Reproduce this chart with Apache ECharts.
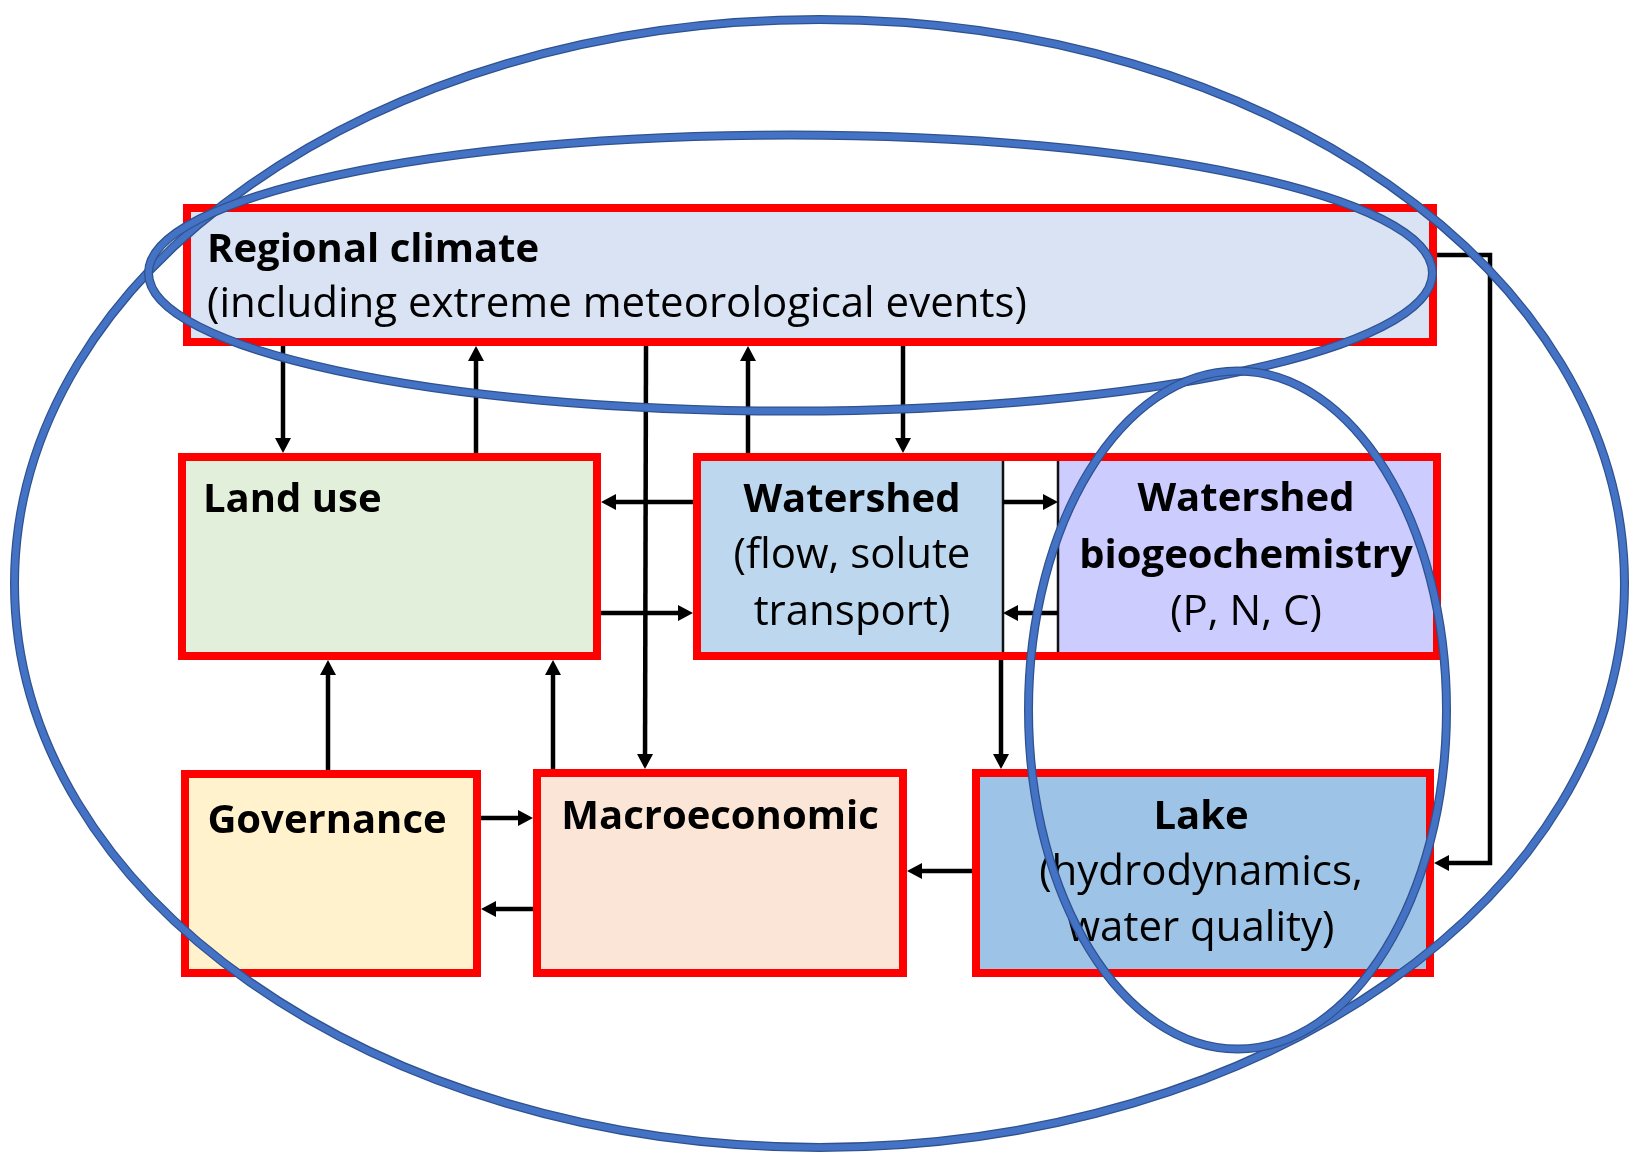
<!DOCTYPE html>
<html>
<head>
<meta charset="utf-8">
<style>
  html, body { margin: 0; padding: 0; background: #ffffff; }
  #chart { width: 1637px; height: 1157px; }
</style>
<script src="https://cdn.jsdelivr.net/npm/echarts@6/dist/echarts.min.js"></script>
</head>
<body>
<div id="chart"></div>
<script>
// ---- Diagram content (diagram units: 1 unit = 1 px of the original figure) ----
// Red-framed modules: [x1, y1, x2, y2]
const frameExtents = [
  [183, 204, 1437, 346],   // Regional climate
  [178, 453, 601, 660],    // Land use
  [693, 453, 1441, 660],   // Watershed + biogeochemistry
  [181, 770, 481, 977],    // Governance
  [533, 769, 907, 977],    // Macroeconomic
  [972, 769, 1434, 977]    // Lake
];
// Filled panels inside frames: [x1, y1, x2, y2]
const panelNames = ['Regional climate', 'Land use', 'Watershed', 'Watershed biogeochemistry', 'Governance', 'Macroeconomic', 'Lake'];
const panelExtents = [
  [187, 208, 1433, 342],
  [182, 457, 597, 656],
  [697, 457, 1003, 656],
  [1058, 457, 1437, 656],
  [185, 774, 477, 973],
  [537, 773, 903, 973],
  [976, 773, 1430, 973]
];
const panelColors = ['#dae3f3', '#e2efda', '#bdd7ee', '#ccccff', '#fff2cc', '#fbe5d6', '#9dc3e6'];

// Text lines
const labelText = [
  'Regional climate', '(including extreme meteorological events)',
  'Land use',
  'Watershed', '(flow, solute', 'transport)',
  'Watershed', 'biogeochemistry', '(P, N, C)',
  'Governance',
  'Macroeconomic',
  'Lake', '(hydrodynamics,', 'water quality)'
];
const labelBold = [1, 0, 1, 1, 0, 0, 1, 1, 0, 1, 1, 1, 0, 0];
// anchor x, baseline y
const labelAnchor = [
  [207, 262], [207, 317],
  [203, 512],
  [852, 512], [852, 568], [852, 625],
  [1246, 511], [1246, 568], [1246, 625],
  [327, 833],
  [720, 829],
  [1201, 829], [1201, 885], [1201, 941]
];
const labelAlign = ['left', 'left', 'left', 'center', 'center', 'center', 'center', 'center', 'center', 'center', 'center', 'center', 'center', 'center'];

// Arrows (polyline points, arrow head at the last point)
const arrowPaths = [
  [[283, 346], [283, 453]],
  [[476, 453], [476, 346]],
  [[646, 346], [645, 769]],
  [[748, 453], [748, 346]],
  [[903, 346], [903, 453]],
  [[693, 502], [601, 502]],
  [[601, 613], [693, 613]],
  [[1003, 502], [1058, 502]],
  [[1058, 613], [1003, 613]],
  [[1001, 660], [1001, 769]],
  [[328, 770], [328, 660]],
  [[553, 769], [553, 660]],
  [[481, 818], [533, 818]],
  [[533, 909], [481, 909]],
  [[972, 871], [907, 871]],
  [[1437, 255], [1490, 255], [1490, 863], [1434, 863]]
];

// Blue grouping ellipses: [cx, cy, rx, ry]
const ellipses = [
  [819.5, 583.5, 805, 564],
  [790.5, 273, 642, 138],
  [1237.5, 710, 209, 339]
];

// ---- Chart ----
const chart = echarts.init(document.getElementById('chart'), null, { renderer: 'canvas' });
const FONT = '"Open Sans", Lato, sans-serif';
const FS_BOLD = 40;
const FS_REG = 42;
const MID = 0.285; // em-box middle above baseline

function rectFrom(api, e, inset) {
  const p1 = api.coord([e[0], e[1]]);
  const p2 = api.coord([e[2], e[3]]);
  const x = Math.min(p1[0], p2[0]) + inset, y = Math.min(p1[1], p2[1]) + inset;
  return { x: x, y: y, width: Math.abs(p2[0] - p1[0]) - 2 * inset, height: Math.abs(p2[1] - p1[1]) - 2 * inset };
}

const option = {
  animation: false,
  backgroundColor: '#ffffff',
  grid: { left: 0, right: 0, top: 0, bottom: 0 },
  xAxis: { type: 'value', min: 0, max: 1637, show: false },
  yAxis: { type: 'value', min: 0, max: 1157, inverse: true, show: false },
  series: [
    {
      name: 'panels', type: 'custom', z: 1, clip: false,
      data: panelExtents.map((e, i) => [e[0], e[1], e[2], e[3], i]),
      encode: { x: [0, 2], y: [1, 3] },
      renderItem: function (params, api) {
        const i = api.value(4);
        const e = panelExtents[i];
        return {
          type: 'rect', shape: rectFrom(api, e, 0),
          style: { fill: panelColors[i], stroke: '#111', lineWidth: 2.5 }
        };
      }
    },
    {
      name: 'frames', type: 'custom', z: 2, clip: false,
      data: frameExtents.map((e, i) => [e[0], e[1], e[2], e[3], i]),
      encode: { x: [0, 2], y: [1, 3] },
      renderItem: function (params, api) {
        const e = frameExtents[api.value(4)];
        return {
          type: 'rect', shape: rectFrom(api, e, 4),
          style: { fill: null, stroke: '#ff0000', lineWidth: 8 }
        };
      }
    },
    {
      name: 'labels', type: 'custom', z: 3, clip: false,
      data: labelAnchor.map((a, i) => [a[0], a[1], i]),
      encode: { x: 0, y: 1 },
      renderItem: function (params, api) {
        const i = api.value(2);
        const p = api.coord([labelAnchor[i][0], labelAnchor[i][1]]);
        const fs = labelBold[i] ? FS_BOLD : FS_REG;
        return {
          type: 'text',
          style: {
            text: labelText[i],
            x: p[0], y: p[1] - MID * fs,
            fill: '#000000',
            font: (labelBold[i] ? 'bold ' : '') + fs + 'px ' + FONT,
            align: labelAlign[i],
            verticalAlign: 'middle'
          }
        };
      }
    },
    {
      name: 'arrows', type: 'custom', z: 4, clip: false,
      data: arrowPaths.map((p, i) => [p[0][0], p[0][1], i]),
      encode: { x: 0, y: 1 },
      renderItem: function (params, api) {
        const pts = arrowPaths[api.value(2)].map(q => api.coord(q));
        const n = pts.length;
        const tip = pts[n - 1], prev = pts[n - 2];
        const dx = tip[0] - prev[0], dy = tip[1] - prev[1];
        const len = Math.sqrt(dx * dx + dy * dy);
        const ux = dx / len, uy = dy / len;
        const hl = 15, hw = 8;
        const base = [tip[0] - ux * hl, tip[1] - uy * hl];
        const linePts = pts.slice(0, n - 1).concat([[tip[0] - ux * (hl - 2), tip[1] - uy * (hl - 2)]]);
        return {
          type: 'group',
          children: [
            { type: 'polyline', shape: { points: linePts }, style: { stroke: '#000', lineWidth: 4.5, fill: null, lineJoin: 'miter' } },
            { type: 'polygon', shape: { points: [tip, [base[0] - uy * hw, base[1] + ux * hw], [base[0] + uy * hw, base[1] - ux * hw]] }, style: { fill: '#000' } }
          ]
        };
      }
    },
    {
      name: 'ellipses', type: 'custom', z: 5, clip: false,
      data: ellipses.map((e, i) => [e[0], e[1], i]),
      encode: { x: 0, y: 1 },
      renderItem: function (params, api) {
        const e = ellipses[api.value(2)];
        const c = api.coord([e[0], e[1]]);
        const s = api.size([e[2], e[3]]);
        const shape = { cx: c[0], cy: c[1], rx: s[0], ry: s[1] };
        return {
          type: 'group',
          children: [
            { type: 'ellipse', shape: shape, style: { fill: null, stroke: '#2f528f', lineWidth: 9 } },
            { type: 'ellipse', shape: shape, style: { fill: null, stroke: '#4472c4', lineWidth: 6.5 } }
          ]
        };
      }
    }
  ]
};
chart.setOption(option);
</script>
</body>
</html>
